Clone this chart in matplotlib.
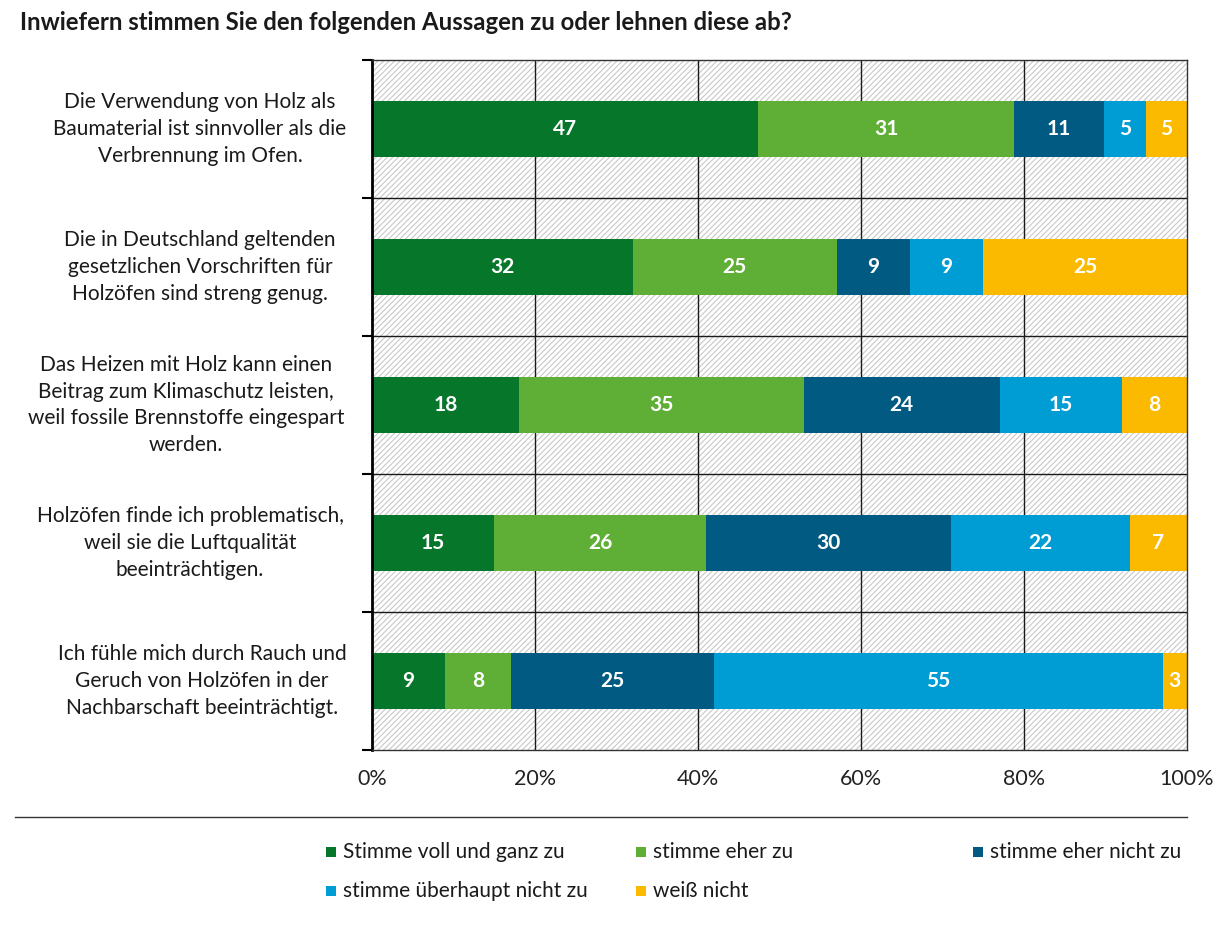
import matplotlib
matplotlib.use("Agg")
import matplotlib.pyplot as plt
from matplotlib.patches import Rectangle
from matplotlib.lines import Line2D
import numpy as np

plt.rcParams['font.family'] = ['Lato', 'DejaVu Sans']
plt.rcParams['hatch.linewidth'] = 0.8
plt.rcParams['hatch.color'] = '#c8c8c8'

title = "Inwiefern stimmen Sie den folgenden Aussagen zu oder lehnen diese ab?"
categories = [
    "Die Verwendung von Holz als\nBaumaterial ist sinnvoller als die\nVerbrennung im Ofen.",
    "Die in Deutschland geltenden\ngesetzlichen Vorschriften für\nHolzöfen sind streng genug.",
    "Das Heizen mit Holz kann einen\nBeitrag zum Klimaschutz leisten,\nweil fossile Brennstoffe eingespart\nwerden.",
    "Holzöfen finde ich problematisch,\nweil sie die Luftqualität\nbeeinträchtigen.",
    "Ich fühle mich durch Rauch und\nGeruch von Holzöfen in der\nNachbarschaft beeinträchtigt.",
]
series_names = ["Stimme voll und ganz zu", "stimme eher zu", "stimme eher nicht zu",
                "stimme überhaupt nicht zu", "weiß nicht"]
voll = [47.4, 32, 18, 15, 9]
eher = [31.4, 25, 35, 26, 8]
eher_nicht = [11.0, 9, 24, 30, 25]
ueberhaupt_nicht = [5.2, 9, 15, 22, 55]
weiss_nicht = [5.0, 25, 8, 7, 3]
colors = ["#05762a", "#5faf37", "#005a82", "#009cd4", "#fbba00"]
xticks = [0, 20, 40, 60, 80, 100]
xticklabels = ["0%", "20%", "40%", "60%", "80%", "100%"]
label_centers = [200, 200, 186, 190, 202]  # pixel x of label centers

series = [voll, eher, eher_nicht, ueberhaupt_nicht, weiss_nicht]
n = len(categories)

fig = plt.figure(figsize=(12.22, 9.25), dpi=100)
ax = fig.add_axes([372/1222, 1-750/925, (1187-372)/1222, (750-60)/925])

# hatched background
bg = Rectangle((0, 0), 1, 1, transform=ax.transAxes, facecolor='white',
               edgecolor='#c8c8c8', hatch='//////', linewidth=0, zorder=0)
ax.add_patch(bg)

y = np.arange(n)
left = np.zeros(n)
for vals, col, name in zip(series, colors, series_names):
    vals = np.array(vals, dtype=float)
    ax.barh(y, vals, left=left, height=0.4, color=col, edgecolor='none', zorder=3, label=name)
    for yi, l, v in zip(y, left, vals):
        ax.text(l + v/2, yi, f"{int(round(v))}", ha='center', va='center', color='white',
                fontsize=15, fontweight='bold', zorder=4)
    left += vals

ax.set_xlim(0, 100)
ax.set_ylim(n - 0.5, -0.5)
ax.set_xticks(xticks)
ax.set_xticklabels(xticklabels, fontsize=15.5, color='#222222')
ax.tick_params(axis='x', length=0, pad=14)
ax.set_yticks(np.arange(n + 1) - 0.5)
ax.set_yticklabels([])
ax.tick_params(axis='y', length=7, width=1.5, color='black', direction='out')

for xv in xticks[1:-1]:
    ax.axvline(xv, color='#1a1a1a', linewidth=1.0, zorder=1)
for yb in np.arange(1, n) - 0.5:
    ax.axhline(yb, color='#1a1a1a', linewidth=1.0, zorder=1)

for s in ['top', 'right', 'bottom']:
    ax.spines[s].set_color('#333333')
    ax.spines[s].set_linewidth(1.0)
ax.spines['left'].set_color('black')
ax.spines['left'].set_linewidth(2.0)
for s in ax.spines.values():
    s.set_zorder(5)

for yi, lab, cx in zip(y, categories, label_centers):
    ax.text((cx - 372) / 815, yi, lab, transform=ax.get_yaxis_transform(), ha='center', va='center',
            multialignment='center', fontsize=15, color='#1a1a1a', linespacing=1.42)

fig.text(20/1222, 1-22/925, title, ha='left', va='center', fontsize=17.2,
         fontweight='bold', color='#1a1a1a')

# separator line
fig.add_artist(Line2D([15/1222, 1187/1222], [1-817/925, 1-817/925], color='#333333', linewidth=1.0))

# legend (manual placement)
leg_pos = [(326, 852), (636, 852), (973, 852), (326, 891), (636, 891)]
for (px, py), col, name in zip(leg_pos, colors, series_names):
    fig.add_artist(Rectangle((px/1222, 1-(py+5)/925), 10/1222, 10/925, facecolor=col,
                             edgecolor='none', transform=fig.transFigure))
    fig.text((px+17)/1222, 1-py/925, name, ha='left', va='center', fontsize=15, color='#1a1a1a')

fig.savefig("out.png", dpi=100, facecolor='white')
